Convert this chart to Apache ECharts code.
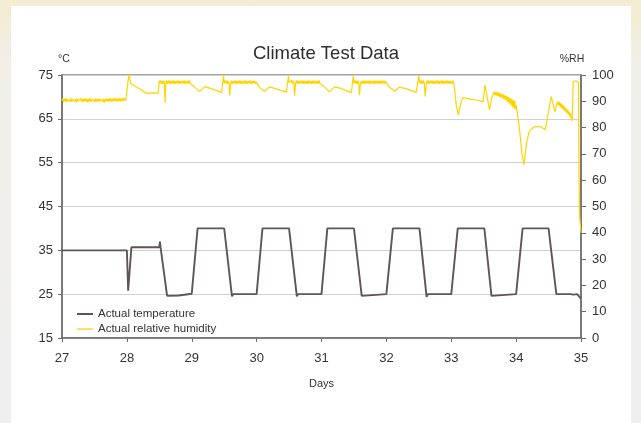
<!DOCTYPE html>
<html>
<head>
<meta charset="utf-8">
<script src="https://cdn.jsdelivr.net/npm/echarts@6/dist/echarts.min.js"></script>
<style>
  html, body { margin: 0; padding: 0; }
  body {
    width: 641px; height: 423px; overflow: hidden; position: relative;
    background: linear-gradient(180deg, #f4edd4 0px, #f3ecd3 12px, #f1efe8 60px, #efefee 100%);
  }
  #panel { position: absolute; left: 11px; top: 6px; width: 620px; height: 417px; background: #ffffff; }
  #chart { position: absolute; left: 0; top: 0; width: 641px; height: 423px; }
</style>
</head>
<body>
<div id="panel"></div>
<div id="chart"></div>
<script>
// ---- Data ----
const chartTitle = 'Climate Test Data';
const xAxisName = 'Days';
const tempAxisName = '°C';
const rhAxisName = '%RH';
const seriesNames = ['Actual temperature', 'Actual relative humidity'];

// Temperature [day, °C]
const tempPoints = [
  [27.00,35.0],[28.00,35.0],[28.02,25.8],[28.07,35.7],[28.50,35.7],[28.51,37.0],[28.52,35.6],
  [28.62,24.6],[28.80,24.7],[28.82,25.1],[29.00,25.1],
  [29.09,40.0],[29.50,40.0],[29.62,24.5],[29.64,25.0],[30.00,25.0],
  [30.09,40.0],[30.50,40.0],[30.62,24.5],[30.64,25.0],[31.00,25.0],
  [31.09,40.0],[31.50,40.0],[31.62,24.6],[31.64,25.0],[32.00,25.0],
  [32.10,40.0],[32.51,40.0],[32.62,24.4],[32.64,25.0],[33.00,25.0],
  [33.10,40.0],[33.51,40.0],[33.62,24.6],[33.64,25.0],[34.00,25.0],
  [34.10,40.0],[34.50,40.0],[34.62,25.0],[34.84,25.0],[34.86,25.3],[34.88,24.9],[34.94,25.0],[35.00,24.0]
];

// Relative humidity [day, %RH], split by day
const rhDay27 = [
  [27.0000,90.2],[27.0125,91.1],[27.0250,89.8],[27.0375,90.9],[27.0500,90.0],[27.0625,91.2],[27.0750,89.7],
  [27.0875,90.8],[27.1000,90.1],[27.1125,91.0],[27.1250,89.9],[27.1375,91.1],[27.1500,89.8],[27.1625,90.7],
  [27.1750,90.0],[27.1875,91.2],[27.2000,89.9],[27.2125,90.9],[27.2250,89.6],[27.2375,91.0],[27.2500,90.1],
  [27.2625,90.8],[27.2750,89.8],[27.2875,91.1],[27.3000,90.0],[27.3125,90.9],[27.3250,89.7],[27.3375,91.0],
  [27.3500,90.1],[27.3625,91.2],[27.3750,89.9],[27.3875,90.8],[27.4000,89.5],[27.4125,90.9],[27.4250,90.0],
  [27.4375,91.1],[27.4500,89.8],[27.4625,90.8],[27.4750,90.1],[27.4875,91.0],[27.5000,89.9],[27.5125,91.1],
  [27.5250,89.7],[27.5375,90.9],[27.5500,90.0],[27.5625,91.0],[27.5750,89.8],[27.5875,90.8],[27.6000,90.1],
  [27.6125,91.2],[27.6250,89.9],[27.6375,90.9],[27.6500,89.4],[27.6625,90.8],[27.6750,90.0],[27.6875,91.1],
  [27.7000,89.9],[27.7125,91.0],[27.7250,90.1],[27.7375,91.2],[27.7500,89.8],[27.7625,90.9],[27.7750,90.1],
  [27.7875,91.1],[27.8000,90.0],[27.8125,91.2],[27.8250,90.1],[27.8375,91.0],[27.8500,89.9],[27.8625,91.1],
  [27.8750,90.2],[27.8875,91.2],[27.9000,90.0],[27.9125,91.0],[27.9250,90.2],[27.9375,91.3],[27.9500,90.1],
  [27.9625,91.1],[27.9750,90.3],[27.9875,91.2],[28.0000,90.5]
];
const rhDay28 = [
  [28.010,91.0],[28.030,100.2],[28.060,96.8],[28.120,95.8],[28.200,94.8],[28.300,93.0],[28.400,93.2],
  [28.480,93.0],[28.500,97.8],[28.5125,96.8],[28.525,97.9],[28.5375,96.6],[28.550,97.8],[28.5625,96.7],
  [28.575,97.7],[28.590,89.5],[28.600,96.8],[28.6125,97.9],[28.625,96.6],[28.6375,97.8],[28.650,96.7],
  [28.6625,97.9],[28.675,96.6],[28.6875,97.7],[28.700,96.8],[28.7125,97.9],[28.725,96.7],[28.7375,97.8],
  [28.750,96.6],[28.7625,97.7],[28.775,96.8],[28.7875,97.9],[28.800,96.7],[28.8125,97.8],[28.825,96.6],
  [28.8375,97.7],[28.850,96.9],[28.8625,97.8],[28.875,96.7],[28.8875,97.9],[28.900,96.6],[28.9125,97.7],
  [28.925,96.8],[28.9375,97.8],[28.950,96.7],[28.9625,97.9],[28.975,96.8],[28.9875,97.5]
];
const rhDay29 = [
  [29.000,97.0],[29.040,95.5],[29.120,93.7],[29.200,95.6],[29.300,94.8],[29.460,93.4],[29.490,99.8],
  [29.500,97.0],[29.5125,97.9],[29.525,96.7],[29.5375,97.8],[29.550,96.6],[29.5625,97.7],[29.575,96.8],
  [29.585,92.2],[29.600,96.8],[29.6125,97.9],[29.625,96.6],[29.6375,97.7],[29.650,96.9],[29.6625,97.8],
  [29.675,96.7],[29.6875,97.9],[29.700,96.6],[29.7125,97.7],[29.725,96.8],[29.7375,97.9],[29.750,96.7],
  [29.7625,97.8],[29.775,96.6],[29.7875,97.7],[29.800,96.8],[29.8125,97.9],[29.825,96.7],[29.8375,97.8],
  [29.850,96.6],[29.8625,97.7],[29.875,96.9],[29.8875,97.8],[29.900,96.7],[29.9125,97.9],[29.925,96.6],
  [29.9375,97.7],[29.950,96.8],[29.9625,97.8],[29.975,96.7],[29.9875,97.5]
];
const rhDay30 = [
  [30.000,97.1],[30.040,95.4],[30.120,93.8],[30.200,95.5],[30.300,94.7],[30.460,93.5],[30.490,99.6],
  [30.500,97.1],[30.5125,97.8],[30.525,96.6],[30.5375,97.9],[30.550,96.7],[30.5625,97.8],[30.575,96.7],
  [30.585,92.0],[30.600,96.7],[30.6125,97.8],[30.625,96.7],[30.6375,97.9],[30.650,96.6],[30.6625,97.8],
  [30.675,96.8],[30.6875,97.7],[30.700,96.7],[30.7125,97.9],[30.725,96.6],[30.7375,97.8],[30.750,96.8],
  [30.7625,97.7],[30.775,96.6],[30.7875,97.9],[30.800,96.7],[30.8125,97.8],[30.825,96.8],[30.8375,97.7],
  [30.850,96.6],[30.8625,97.9],[30.875,96.7],[30.8875,97.8],[30.900,96.8],[30.9125,97.7],[30.925,96.6],
  [30.9375,97.8],[30.950,96.7],[30.9625,97.9],[30.975,96.8],[30.9875,97.4]
];
const rhDay31 = [
  [31.000,97.0],[31.040,95.6],[31.120,93.6],[31.200,95.5],[31.300,94.9],[31.460,93.3],[31.490,99.7],
  [31.500,97.0],[31.5125,97.9],[31.525,96.7],[31.5375,97.8],[31.550,96.6],[31.5625,97.9],[31.575,96.8],
  [31.585,92.3],[31.600,96.8],[31.6125,97.7],[31.625,96.6],[31.6375,97.8],[31.650,96.7],[31.6625,97.9],
  [31.675,96.6],[31.6875,97.8],[31.700,96.8],[31.7125,97.7],[31.725,96.7],[31.7375,97.9],[31.750,96.6],
  [31.7625,97.8],[31.775,96.8],[31.7875,97.7],[31.800,96.7],[31.8125,97.9],[31.825,96.6],[31.8375,97.8],
  [31.850,96.7],[31.8625,97.7],[31.875,96.8],[31.8875,97.9],[31.900,96.6],[31.9125,97.8],[31.925,96.7],
  [31.9375,97.7],[31.950,96.8],[31.9625,97.9],[31.975,96.7],[31.9875,97.5]
];
const rhDay32 = [
  [32.000,97.0],[32.040,95.5],[32.130,93.8],[32.200,95.4],[32.300,94.8],[32.460,93.4],[32.500,99.8],
  [32.510,97.1],[32.5225,97.9],[32.535,96.6],[32.5475,97.8],[32.560,96.7],[32.5725,97.9],[32.585,96.8],
  [32.600,91.8],[32.615,96.8],[32.6275,97.8],[32.640,96.7],[32.6525,97.9],[32.665,96.6],[32.6775,97.7],
  [32.690,96.8],[32.7025,97.9],[32.715,96.7],[32.7275,97.8],[32.740,96.6],[32.7525,97.7],[32.765,96.8],
  [32.7775,97.9],[32.790,96.7],[32.8025,97.8],[32.815,96.6],[32.8275,97.7],[32.840,96.8],[32.8525,97.9],
  [32.865,96.7],[32.8775,97.8],[32.890,96.6],[32.9025,97.7],[32.915,96.8],[32.9275,97.9],[32.940,96.7],
  [32.9525,97.8],[32.965,96.6],[32.9775,97.7],[32.990,96.8],[33.0025,97.6],[33.015,96.7],[33.0275,97.8],
  [33.040,96.8]
];
const rhDay33 = [
  [33.050,97.2],[33.080,88.0],[33.110,84.8],[33.150,89.5],[33.180,91.4],[33.300,90.8],[33.400,90.4],
  [33.490,89.8],[33.520,96.2],[33.550,92.0],[33.590,86.7],[33.620,91.0],[33.660,93.6],[33.6700,92.4],
  [33.680,93.5],[33.690,92.3],[33.700,93.6],[33.710,92.1],[33.720,93.3],[33.730,91.9],[33.740,93.2],
  [33.750,91.6],[33.760,92.9],[33.770,91.5],[33.780,92.8],[33.790,91.2],[33.800,92.6],[33.810,90.9],
  [33.820,92.4],[33.830,90.6],[33.840,92.1],[33.850,90.2],[33.860,91.9],[33.870,89.8],[33.880,91.6],
  [33.890,89.4],[33.900,91.3],[33.910,88.8],[33.920,91.0],[33.930,88.3],[33.940,90.7],[33.950,87.8],
  [33.960,90.4],[33.970,87.3],[33.980,90.1],[33.990,87.0]
];
const rhDay34 = [
  [34.000,88.6],[34.050,80.0],[34.090,70.0],[34.120,65.8],[34.160,74.0],[34.200,78.5],[34.250,79.8],
  [34.300,80.4],[34.380,80.3],[34.450,79.2],[34.480,78.7],[34.540,91.8],[34.600,86.1],[34.640,90.0],
  [34.650,88.6],[34.660,89.8],[34.670,88.2],[34.680,89.5],[34.690,87.7],[34.700,89.0],[34.710,87.2],
  [34.720,88.6],[34.730,86.8],[34.740,88.1],[34.750,86.3],[34.760,87.6],[34.770,85.8],[34.780,87.1],
  [34.790,85.3],[34.800,86.6],[34.810,84.8],[34.820,86.0],[34.830,84.1],[34.840,85.4],[34.850,83.4],
  [34.860,84.6],[34.865,82.3],[34.880,97.5],[34.920,97.8],[34.960,97.2],
  [34.970,60.0],[34.980,46.0],[34.990,43.0],[35.000,40.0]
];

const tempRange = { min: 15, max: 75, step: 10 };
const rhRange = { min: 0, max: 100, step: 10 };
const dayRange = { min: 27, max: 35, step: 1 };

const rhPoints = [].concat(rhDay27, rhDay28, rhDay29, rhDay30, rhDay31, rhDay32, rhDay33, rhDay34);

// ---- Chart ----
const FONT = '"Liberation Sans", Arial, sans-serif';
const TXT = '#333333';
const AXIS = '#6e6a68';
const chart = echarts.init(document.getElementById('chart'), null, { renderer: 'canvas' });

chart.setOption({
  backgroundColor: 'transparent',
  animation: false,
  textStyle: { fontFamily: FONT },
  title: {
    text: chartTitle,
    left: 248, top: 39,
    textStyle: { fontFamily: FONT, fontSize: 18.5, fontWeight: 'normal', color: '#2e2e2e' }
  },
  legend: {
    orient: 'vertical',
    left: 72, top: 302,
    itemWidth: 16, itemHeight: 2, itemGap: 1,
    icon: 'rect',
    data: seriesNames,
    textStyle: { fontFamily: FONT, fontSize: 11.5, color: TXT, lineHeight: 14 }
  },
  grid: {
    left: 62, right: 60, top: 75, bottom: 85,
    show: true, borderColor: '#8a8583', borderWidth: 1.5, backgroundColor: 'transparent'
  },
  xAxis: {
    type: 'value',
    min: dayRange.min, max: dayRange.max, interval: dayRange.step,
    name: xAxisName, nameLocation: 'middle', nameGap: 40,
    nameTextStyle: { fontFamily: FONT, fontSize: 11, color: TXT },
    axisLine: { show: true, lineStyle: { color: AXIS, width: 1.5 } },
    axisTick: { show: true, length: 4, lineStyle: { color: AXIS } },
    axisLabel: { margin: 14, fontFamily: FONT, fontSize: 13, color: TXT },
    splitLine: { show: false }
  },
  yAxis: [
    {
      type: 'value', position: 'left',
      min: tempRange.min, max: tempRange.max, interval: tempRange.step,
      name: tempAxisName, nameLocation: 'end', nameGap: 10,
      nameTextStyle: { fontFamily: FONT, fontSize: 10.5, color: TXT, padding: [0, 0, 0, 4] },
      axisLine: { show: true, lineStyle: { color: AXIS, width: 1.5 } },
      axisTick: { show: true, length: 4, lineStyle: { color: AXIS } },
      axisLabel: { margin: 9, fontFamily: FONT, fontSize: 13, color: TXT },
      splitLine: { show: true, lineStyle: { color: '#d2d0cf', width: 1.2 } }
    },
    {
      type: 'value', position: 'right',
      min: rhRange.min, max: rhRange.max, interval: rhRange.step,
      name: rhAxisName, nameLocation: 'end', nameGap: 10,
      nameTextStyle: { fontFamily: FONT, fontSize: 10.5, color: TXT, padding: [0, 18, 0, 0] },
      axisLine: { show: true, lineStyle: { color: AXIS, width: 1.5 } },
      axisTick: { show: true, length: 5, lineStyle: { color: AXIS } },
      axisLabel: { margin: 11, fontFamily: FONT, fontSize: 13, color: TXT },
      splitLine: { show: false }
    }
  ],
  series: [
    {
      name: seriesNames[1],
      type: 'line', yAxisIndex: 1,
      data: rhPoints,
      showSymbol: false, symbol: 'none',
      lineStyle: { color: '#ffd400', width: 1.2 },
      itemStyle: { color: '#ffe066' },
      z: 2
    },
    {
      name: seriesNames[0],
      type: 'line', yAxisIndex: 0,
      data: tempPoints,
      showSymbol: false, symbol: 'none',
      lineStyle: { color: '#5e5654', width: 1.9 },
      itemStyle: { color: '#5e5654' },
      z: 3
    }
  ]
});
</script>
</body>
</html>
